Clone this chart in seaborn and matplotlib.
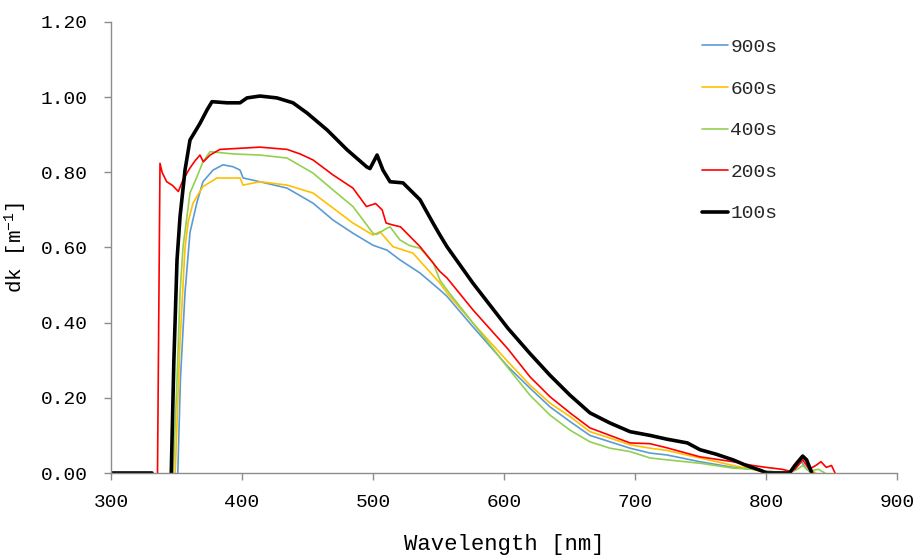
import matplotlib
matplotlib.use("Agg")
import matplotlib.pyplot as plt
import seaborn as sns

# wavelength [nm] / dk values, one pair of lists per series
wl_900 = [351, 353, 356.5, 360.3, 365.6, 370.2, 377.9, 385.5, 393.1, 398.5, 400.8, 413.7, 434.4,
          454.2, 469.5, 484.7, 500, 510.7, 520.6, 535.9, 551.1, 556.5, 576.3, 603, 619.8, 635.1,
          650.4, 665.6, 680.9, 696.2, 711.5, 724.4, 749.6, 774.8, 790, 800, 818, 822, 827, 831, 835]
dk_900 = [0.0, 0.25, 0.48, 0.64, 0.72, 0.775, 0.806, 0.82, 0.815, 0.806, 0.785, 0.775, 0.758,
          0.718, 0.673, 0.638, 0.606, 0.593, 0.567, 0.532, 0.487, 0.47, 0.389, 0.283, 0.226, 0.176,
          0.137, 0.10, 0.083, 0.066, 0.053, 0.048, 0.03, 0.015, 0.01, 0.005, 0.0, 0.01, 0.03, 0.01, 0.0]

wl_600 = [349, 352.7, 356.5, 359, 362.6, 367.9, 370.2, 380.9, 398.5, 400.8, 413.7, 434.4, 454.2,
          469.5, 484.7, 500, 505.3, 515.3, 530.5, 551.1, 556.5, 576.3, 603, 619.8, 635.1, 650.4,
          665.6, 680.9, 696.2, 711.5, 724.4, 749.6, 774.8, 790, 800, 818, 822, 828, 833, 838]
dk_600 = [0.0, 0.35, 0.60, 0.67, 0.718, 0.749, 0.762, 0.785, 0.785, 0.766, 0.775, 0.766, 0.745,
          0.705, 0.665, 0.633, 0.642, 0.602, 0.585, 0.505, 0.479, 0.399, 0.296, 0.234, 0.186, 0.15,
          0.11, 0.093, 0.075, 0.066, 0.06, 0.04, 0.02, 0.01, 0.0, 0.0, 0.015, 0.04, 0.01, 0.0]

wl_400 = [347.5, 350.4, 352.7, 355, 360.3, 365.6, 370.2, 375.6, 393.1, 413.7, 434.4, 454.2, 469.5,
          484.7, 500, 503, 510, 513, 520.6, 528, 535.9, 545.8, 551.1, 556.5, 576.3, 603, 619.8,
          635.1, 650.4, 665.6, 680.9, 696.2, 711.5, 724.4, 749.6, 774.8, 790, 800, 818, 824, 828,
          833, 840, 845]
dk_400 = [0.0, 0.25, 0.479, 0.602, 0.745, 0.788, 0.828, 0.855, 0.849, 0.846, 0.838, 0.798, 0.753,
          0.709, 0.638, 0.635, 0.65, 0.655, 0.62, 0.605, 0.598, 0.56, 0.513, 0.487, 0.399, 0.28, 0.207,
          0.154, 0.114, 0.083, 0.066, 0.057, 0.04, 0.035, 0.026, 0.013, 0.01, 0.005, 0.0, 0.01, 0.02,
          0.005, 0.01, 0.0]

wl_200 = [335.5, 337.4, 339, 342.5, 347, 351.4, 355, 360, 364, 367.9, 370.5, 375.6, 383.2, 413.7,
          434.4, 444.3, 454.2, 469.5, 484.7, 495, 502, 507, 510, 515, 521, 536, 551.1, 556.5, 576.3,
          603, 619.8, 635.1, 650.4, 665.6, 680.9, 696.2, 711.5, 724.4, 749.6, 774.8, 790, 800, 812,
          818, 822, 828, 833, 838, 842, 846, 850, 852.7]
dk_200 = [0.0, 0.824, 0.80, 0.775, 0.765, 0.749, 0.78, 0.81, 0.83, 0.846, 0.828, 0.846, 0.861, 0.867,
          0.861, 0.849, 0.833, 0.793, 0.758, 0.709, 0.717, 0.70, 0.665, 0.66, 0.655, 0.602, 0.536,
          0.519, 0.434, 0.33, 0.256, 0.203, 0.16, 0.12, 0.10, 0.08, 0.078, 0.067, 0.043, 0.03, 0.02,
          0.015, 0.01, 0.005, 0.01, 0.035, 0.01, 0.02, 0.03, 0.015, 0.02, 0.0]

wl_100 = [346, 348, 350.4, 352.7, 356.5, 360.3, 367.9, 373.3, 377.1, 388.5, 398.5, 403.8, 413.7,
          426.7, 438.9, 449.6, 464.9, 480.2, 495.4, 497.7, 503.1, 507.6, 513, 522.9, 535.9, 545.8,
          551.1, 556.5, 576.3, 603, 619.8, 635.1, 650.4, 665.6, 680.9, 696.2, 711.5, 724.4, 740,
          749.6, 762, 774.8, 785, 795, 800.8, 818, 822, 828, 831, 835]
dk_100 = [0.0, 0.3, 0.567, 0.682, 0.806, 0.886, 0.93, 0.966, 0.988, 0.985, 0.985, 0.998, 1.003,
          0.998, 0.985, 0.958, 0.913, 0.86, 0.814, 0.81, 0.846, 0.806, 0.775, 0.772, 0.727, 0.665,
          0.633, 0.602, 0.505, 0.385, 0.318, 0.26, 0.207, 0.16, 0.133, 0.11, 0.10, 0.09, 0.08,
          0.062, 0.05, 0.035, 0.02, 0.008, 0.0, 0.0, 0.02, 0.045, 0.035, 0.0]

# flat baseline piece of the 100s curve, separated from the rest by a gap
wl_100_base = [300, 331]
dk_100_base = [0.0, 0.0]

labels = ["900s", "600s", "400s", "200s", "100s"]
colors = ["#5B9BD5", "#FFC000", "#92D050", "#FF0000", "#000000"]
widths = [1.2, 1.2, 1.2, 1.2, 2.6]
series = [(wl_900, dk_900), (wl_600, dk_600), (wl_400, dk_400), (wl_200, dk_200), (wl_100, dk_100)]

x_ticks = [300, 400, 500, 600, 700, 800, 900]
y_ticks = [0.0, 0.2, 0.4, 0.6, 0.8, 1.0, 1.2]

sns.set_theme(style="white")
plt.rcParams["font.family"] = ["Liberation Mono", "DejaVu Sans Mono"]
plt.rcParams["mathtext.default"] = "regular"

fig = plt.figure(figsize=(9.2, 5.58), dpi=100)
ax = fig.add_axes([111 / 920, 85 / 558, 786 / 920, 451 / 558])

for (wl, dk), lab, col, lw in zip(series, labels, colors, widths):
    if lab == "100s":
        sns.lineplot(x=wl_100_base, y=dk_100_base, color=col, lw=lw, ax=ax,
                     estimator=None, legend=False)
    sns.lineplot(x=wl, y=dk, color=col, lw=lw, label=lab, ax=ax, estimator=None)

ax.set_xlim(300, 900)
ax.set_ylim(0, 1.2)
ax.set_xticks(x_ticks)
ax.set_yticks(y_ticks)
ax.set_yticklabels([f"{v:.2f}" for v in y_ticks])

grey = "#8c8c8c"
for side in ["top", "right"]:
    ax.spines[side].set_visible(False)
for side in ["left", "bottom"]:
    ax.spines[side].set_color(grey)
    ax.spines[side].set_linewidth(1.0)
ax.tick_params(axis="both", which="major", direction="out", length=5, width=1.0,
               color=grey, labelsize=14, labelcolor="black")
ax.tick_params(axis="y", pad=12, left=True)
ax.tick_params(axis="x", pad=10, bottom=True)

ax.set_xlabel("Wavelength [nm]", fontsize=16, color="black")
ax.set_ylabel(r"dk [m$^{-1}$]", fontsize=15, color="black")
ax.xaxis.set_label_coords(0.5, -0.135)
ax.yaxis.set_label_coords(-0.104, 0.5)

ax.legend(loc="upper left", bbox_to_anchor=(0.752, 0.963), frameon=False, fontsize=14,
          handlelength=1.35, handletextpad=0.1, labelspacing=1.23, borderpad=0,
          borderaxespad=0)

fig.savefig("out.png", dpi=100)
plt.close(fig)
